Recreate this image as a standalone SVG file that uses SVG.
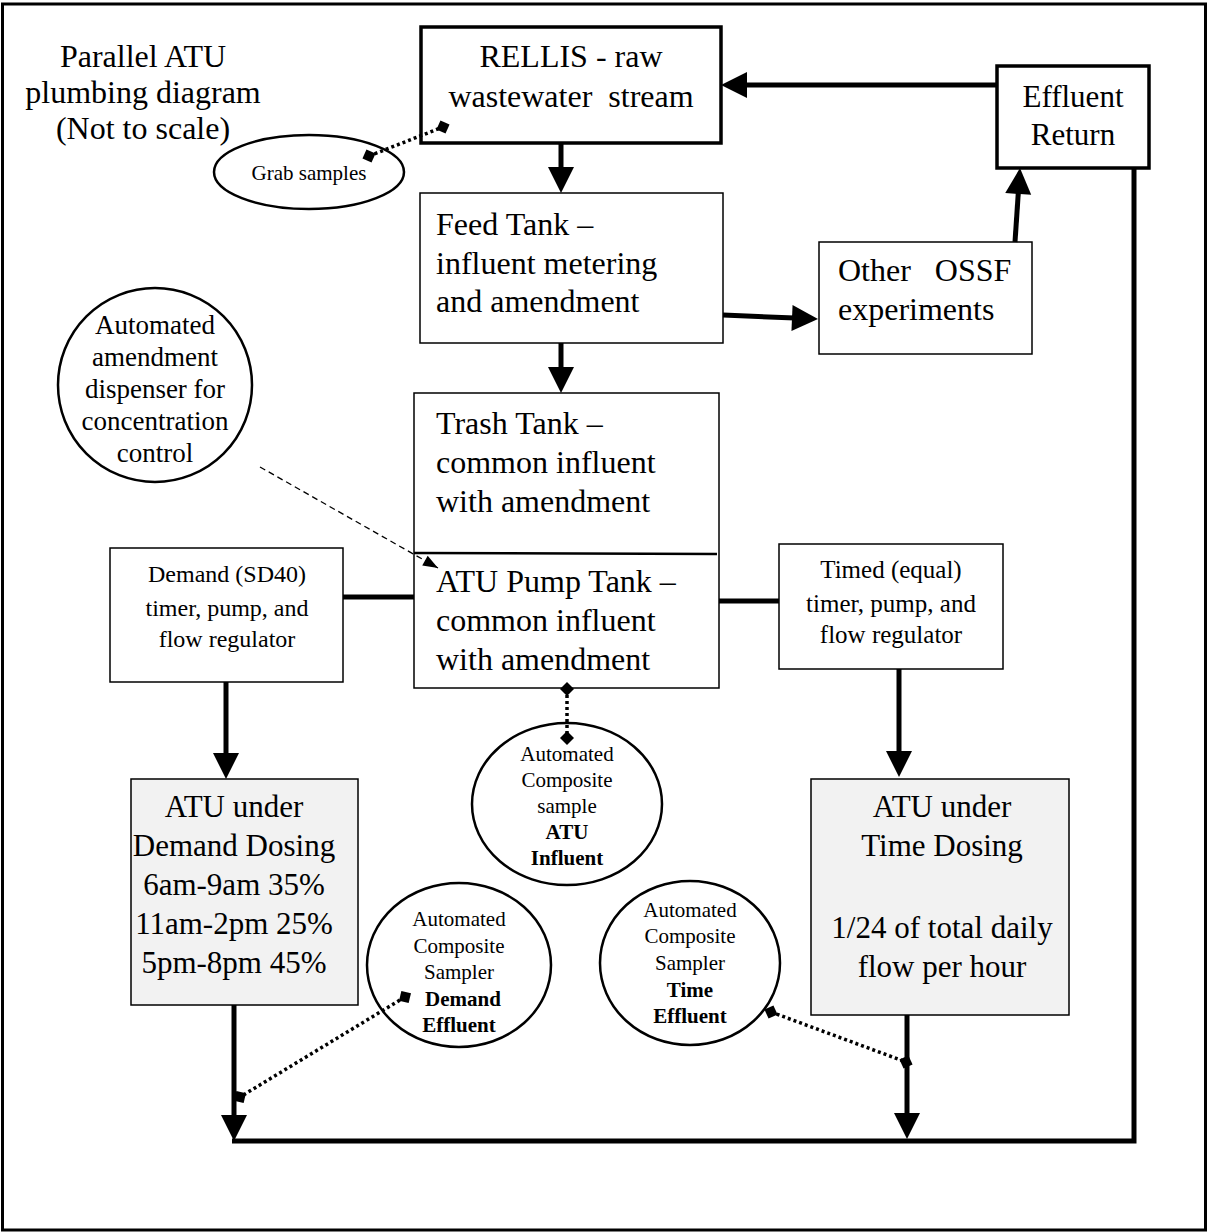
<svg xmlns="http://www.w3.org/2000/svg" width="1208" height="1232" viewBox="0 0 1208 1232">
<style>
text{font-family:"Liberation Serif","Times New Roman",serif;fill:#000}
.t32{font-size:32px}
.t31{font-size:31px}
.t25{font-size:25px}
.t24{font-size:24px}
.t27{font-size:27px}
.t21{font-size:21px}
.c{text-anchor:middle}
.b{font-weight:bold}
.box{fill:#fff;stroke:#000;stroke-width:1.5}
.boxk{fill:#fff;stroke:#000;stroke-width:3.5}
.atu{fill:#f2f2f2;stroke:#000;stroke-width:1.5}
.ell{fill:#fff;stroke:#000;stroke-width:2.5}
.flow{fill:none;stroke:#000;stroke-width:5}
.dot{fill:none;stroke:#000;stroke-width:3.5;stroke-dasharray:3 3}
.dash{fill:none;stroke:#000;stroke-width:1.3;stroke-dasharray:6 4}
</style>
<defs>
<marker id="ah" markerUnits="userSpaceOnUse" markerWidth="30" markerHeight="30" refX="16" refY="13" orient="auto" overflow="visible">
<path d="M0,0 L26,13 L0,26 z" fill="#000"/>
</marker>
<marker id="sah" markerUnits="userSpaceOnUse" markerWidth="16" markerHeight="12" refX="15" refY="5.5" orient="auto" overflow="visible">
<path d="M0,0 L15,5.5 L0,11 z" fill="#000"/>
</marker>
<marker id="dia" markerUnits="userSpaceOnUse" markerWidth="14" markerHeight="14" refX="7" refY="7" orient="auto" overflow="visible">
<path d="M0,7 L7,0 L14,7 L7,14 z" fill="#000"/>
</marker>
</defs>
<rect x="2.5" y="4" width="1203" height="1226" fill="#fff" stroke="#000" stroke-width="3"/>
<g id="title">
<text class="t32 c" x="143" y="67">Parallel ATU</text>
<text class="t32 c" x="143" y="103">plumbing diagram</text>
<text class="t32 c" x="143" y="139">(Not to scale)</text>
</g>
<g id="rellis">
<rect class="boxk" x="421" y="27" width="300" height="116"/>
<text class="t32 c" x="571" y="67">RELLIS - raw</text>
<text class="t32 c" x="571" y="107" xml:space="preserve">wastewater  stream</text>
</g>
<g id="effluent-return">
<rect class="boxk" x="997" y="66" width="152" height="102"/>
<text class="t31 c" x="1073" y="107">Effluent</text>
<text class="t31 c" x="1073" y="145">Return</text>
</g>
<g id="grab-samples">
<ellipse class="ell" cx="309" cy="172" rx="95" ry="37"/>
<text class="t21 c" x="309" y="180">Grab samples</text>
</g>
<g id="feed-tank">
<rect class="box" x="420" y="193" width="303" height="150"/>
<text class="t32" x="436" y="235">Feed Tank –</text>
<text class="t32" x="436" y="274">influent metering</text>
<text class="t32" x="436" y="312">and amendment</text>
</g>
<g id="other-ossf">
<rect class="box" x="819" y="242" width="213" height="112"/>
<text class="t32" x="838" y="281" xml:space="preserve">Other   OSSF</text>
<text class="t32" x="838" y="320">experiments</text>
</g>
<g id="trash-pump-tank">
<rect class="box" x="414" y="393" width="305" height="295"/>
<path d="M414,553 L717,554" stroke="#000" stroke-width="2.5"/>
<text class="t32" x="436" y="434">Trash Tank –</text>
<text class="t32" x="436" y="473">common influent</text>
<text class="t32" x="436" y="512">with amendment</text>
<text class="t32" x="436" y="592">ATU Pump Tank –</text>
<text class="t32" x="436" y="631">common influent</text>
<text class="t32" x="436" y="670">with amendment</text>
</g>
<g id="amendment-dispenser">
<circle class="ell" cx="155" cy="385" r="97"/>
<text class="t27 c" x="155" y="334">Automated</text>
<text class="t27 c" x="155" y="366">amendment</text>
<text class="t27 c" x="155" y="398">dispenser for</text>
<text class="t27 c" x="155" y="430">concentration</text>
<text class="t27 c" x="155" y="462">control</text>
</g>
<g id="demand-timer">
<rect class="box" x="110" y="548" width="233" height="134"/>
<text class="t24 c" x="227" y="582">Demand (SD40)</text>
<text class="t24 c" x="227" y="616">timer, pump, and</text>
<text class="t24 c" x="227" y="647">flow regulator</text>
</g>
<g id="timed-timer">
<rect class="box" x="779" y="544" width="224" height="125"/>
<text class="t25 c" x="891" y="578">Timed (equal)</text>
<text class="t25 c" x="891" y="612">timer, pump, and</text>
<text class="t25 c" x="891" y="643">flow regulator</text>
</g>
<g id="atu-demand">
<rect class="atu" x="131" y="779" width="227" height="226"/>
<text class="t31 c" x="234" y="817">ATU under</text>
<text class="t31 c" x="234" y="856">Demand Dosing</text>
<text class="t31 c" x="234" y="895">6am-9am 35%</text>
<text class="t31 c" x="234" y="934">11am-2pm 25%</text>
<text class="t31 c" x="234" y="973">5pm-8pm 45%</text>
</g>
<g id="atu-time">
<rect class="atu" x="811" y="779" width="258" height="236"/>
<text class="t31 c" x="942" y="817">ATU under</text>
<text class="t31 c" x="942" y="856">Time Dosing</text>
<text class="t31 c" x="942" y="938">1/24 of total daily</text>
<text class="t31 c" x="942" y="977">flow per hour</text>
</g>
<g id="atu-influent-sampler">
<ellipse class="ell" cx="567" cy="804" rx="95" ry="81"/>
<text class="t21 c" x="567" y="761">Automated</text>
<text class="t21 c" x="567" y="787">Composite</text>
<text class="t21 c" x="567" y="813">sample</text>
<text class="t21 c b" x="567" y="839">ATU</text>
<text class="t21 c b" x="567" y="865">Influent</text>
</g>
<g id="demand-effluent-sampler">
<ellipse class="ell" cx="459" cy="965" rx="92" ry="82"/>
<text class="t21 c" x="459" y="926">Automated</text>
<text class="t21 c" x="459" y="953">Composite</text>
<text class="t21 c" x="459" y="979">Sampler</text>
<text class="t21 c b" x="463" y="1006">Demand</text>
<text class="t21 c b" x="459" y="1032">Effluent</text>
</g>
<g id="time-effluent-sampler">
<ellipse class="ell" cx="690" cy="963" rx="90" ry="82"/>
<text class="t21 c" x="690" y="917">Automated</text>
<text class="t21 c" x="690" y="943">Composite</text>
<text class="t21 c" x="690" y="970">Sampler</text>
<text class="t21 c b" x="690" y="997">Time</text>
<text class="t21 c b" x="690" y="1023">Effluent</text>
</g>
<g id="connectors">
<path class="flow" d="M997,85 H731" marker-end="url(#ah)"/>
<path class="flow" d="M1015,242 L1019.3,178" marker-end="url(#ah)"/>
<path class="flow" d="M723,315 L808,318.6" marker-end="url(#ah)"/>
<path class="flow" d="M561,143 V183" marker-end="url(#ah)"/>
<path class="flow" d="M561,343 V383" marker-end="url(#ah)"/>
<path class="flow" d="M343,597 H414"/>
<path class="flow" d="M719,601 H779"/>
<path class="flow" d="M226,682 V769" marker-end="url(#ah)"/>
<path class="flow" d="M899,669 V767" marker-end="url(#ah)"/>
<path class="flow" d="M1134,168 V1141 H232"/>
<path class="flow" d="M234,1005 V1131" marker-end="url(#ah)"/>
<path class="flow" d="M907,1015 V1129" marker-end="url(#ah)"/>
<path class="dash" d="M260,467 L438,568" marker-end="url(#sah)"/>
<path class="dot" d="M369,156 L443,127" marker-start="url(#dia)" marker-end="url(#dia)"/>
<path class="dot" d="M567,689 L567,738" marker-start="url(#dia)" marker-end="url(#dia)"/>
<path class="dot" d="M405,997 L240,1097" marker-start="url(#dia)" marker-end="url(#dia)"/>
<path class="dot" d="M771,1012 L906,1062" marker-start="url(#dia)" marker-end="url(#dia)"/>
</g>
</svg>
